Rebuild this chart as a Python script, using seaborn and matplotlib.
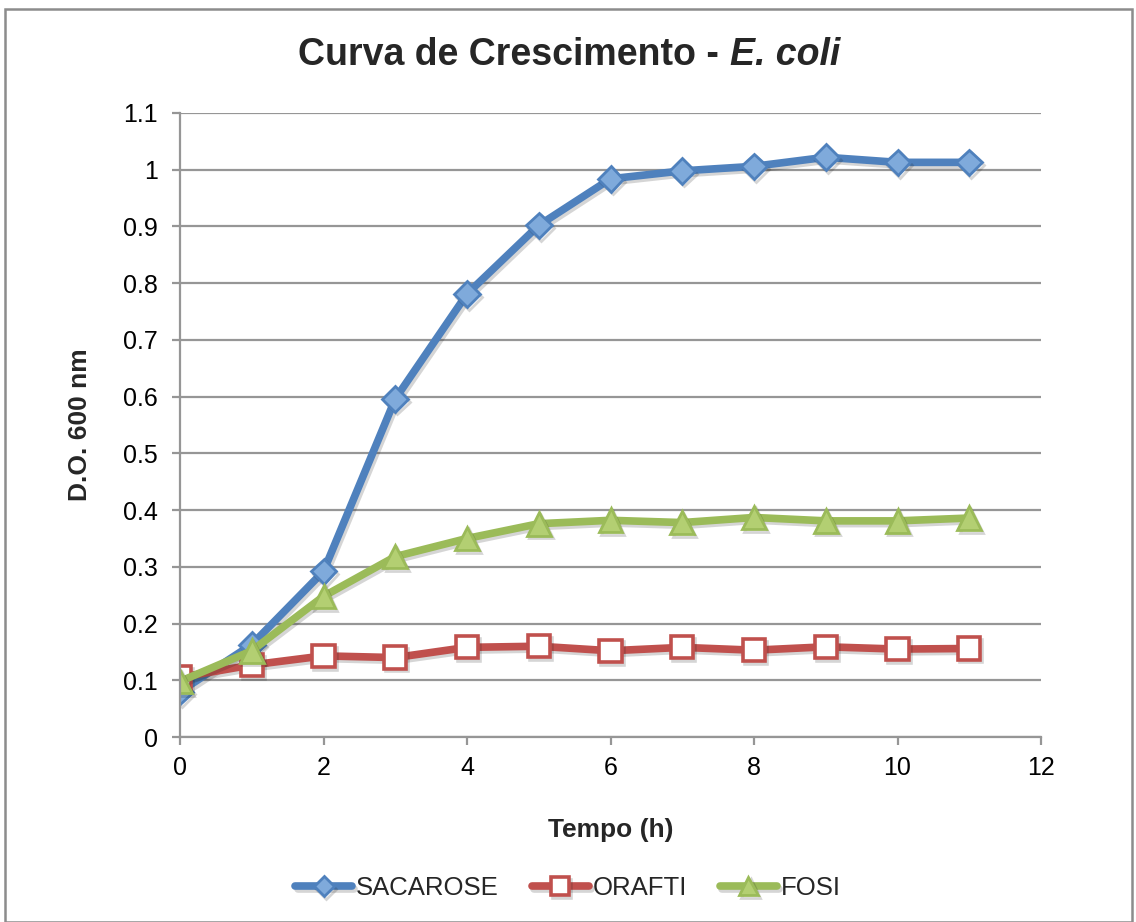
import matplotlib
matplotlib.use("Agg")
import matplotlib.pyplot as plt
import matplotlib.patheffects as pe
from matplotlib.patches import Rectangle
import seaborn as sns
import pandas as pd

# data
tempo = [0, 1, 2, 3, 4, 5, 6, 7, 8, 9, 10, 11]
sacarose = [0.08, 0.163, 0.292, 0.596, 0.781, 0.902, 0.984, 0.998, 1.006, 1.022, 1.013, 1.013]
orafti = [0.105, 0.127, 0.143, 0.140, 0.158, 0.160, 0.152, 0.158, 0.153, 0.159, 0.155, 0.156]
fosi = [0.098, 0.152, 0.248, 0.318, 0.350, 0.376, 0.382, 0.378, 0.387, 0.381, 0.381, 0.386]

sns.set_theme(style="white")
plt.rcParams["font.family"] = ["Liberation Sans", "DejaVu Sans"]

fig = plt.figure(figsize=(11.36, 9.22), dpi=100)
ax = fig.add_axes([180 / 1136, 1 - 737 / 922, (1041 - 180) / 1136, (737 - 113) / 922])

grey = "#969696"
shadow = [pe.SimpleLineShadow(offset=(1.5, -2), shadow_color="k", alpha=0.18), pe.Normal()]

series = [
    ("SACAROSE", sacarose, "#4F81BD", "D", "#7FAADB", "#4F81BD", 13, 2),
    ("ORAFTI", orafti, "#C0504D", "s", "white", "#C0504D", 16, 2.6),
    ("FOSI", fosi, "#9BBB59", "^", "#B3CF72", "#9BBB59", 17, 2),
]

for name, vals, col, mk, fc, ec, ms, mew in series:
    df = pd.DataFrame({"Tempo": tempo, "DO": vals})
    sns.lineplot(data=df, x="Tempo", y="DO", ax=ax, color=col, lw=5.5,
                 marker=mk, markersize=ms, markerfacecolor=fc,
                 markeredgecolor=ec, markeredgewidth=mew, label=name,
                 path_effects=shadow)

ax.set_xlim(0, 12)
ax.set_ylim(0, 1.1)
ax.set_xticks([0, 2, 4, 6, 8, 10, 12])
ax.set_yticks([i / 10 for i in range(12)])
ax.set_yticklabels(["0", "0.1", "0.2", "0.3", "0.4", "0.5", "0.6", "0.7",
                    "0.8", "0.9", "1", "1.1"])
ax.grid(axis="y", color=grey, lw=1.6)
ax.set_axisbelow(True)
for s in ["top", "right"]:
    ax.spines[s].set_visible(False)
for s in ["left", "bottom"]:
    ax.spines[s].set_color(grey)
    ax.spines[s].set_linewidth(1.6)
ax.tick_params(axis="both", which="major", direction="out", length=6, width=1.6,
               color=grey, labelsize=18, labelcolor="black", pad=8)
ax.tick_params(axis="y", pad=10)
ax.tick_params(left=True, bottom=True)

ax.set_xlabel("Tempo (h)", fontsize=19, fontweight="bold", labelpad=27)
ax.set_ylabel("D.O. 600 nm", fontsize=19, fontweight="bold", labelpad=22)

# title with italic species name
fig.canvas.draw()
r = fig.canvas.get_renderer()
t1 = fig.text(0, 0.94, "Curva de Crescimento - ", fontsize=27, fontweight="bold",
              va="center", ha="left")
t2 = fig.text(0, 0.94, "E. coli", fontsize=27, fontweight="bold", style="italic",
              va="center", ha="left")
w1 = t1.get_window_extent(r).width / fig.bbox.width
w2 = t2.get_window_extent(r).width / fig.bbox.width
x0 = 569 / 1136 - (w1 + w2) / 2
t1.set_x(x0)
t2.set_x(x0 + w1)

ax.legend(loc="center", bbox_to_anchor=(0.5, 1 - 888 / 922), bbox_transform=fig.transFigure,
          ncol=3, frameon=False, fontsize=18.5, handlelength=2.2, handletextpad=0.15,
          columnspacing=1.3, markerscale=0.8)

fig.patches.append(Rectangle((5 / 1136, 0.0), 1127 / 1136, 1 - 9 / 922, transform=fig.transFigure,
                             fill=False, edgecolor="#8C8C8C", lw=1.8, clip_on=False))

fig.savefig("out.png", dpi=100)
